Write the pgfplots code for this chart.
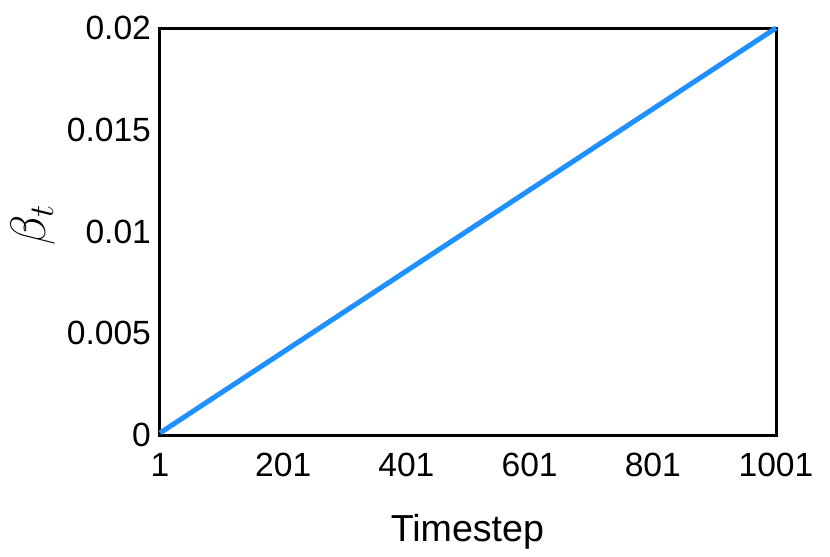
\documentclass[border=0pt]{standalone}
\usepackage{fontspec}
\setmainfont{Liberation Sans}
\usepackage{pgfplots}
\usetikzlibrary{calc}
\pgfplotsset{compat=1.18}
\definecolor{lineblue}{RGB}{30,144,255}
\begin{document}
\begin{tikzpicture}
\begin{axis}[
  width=308pt, height=203.5pt,
  scale only axis,
  xmin=1, xmax=1001, ymin=0, ymax=0.02,
  xtick={1,201,401,601,801,1001},
  ytick={0,0.005,0.01,0.015,0.02},
  yticklabels={0,0.005,0.01,0.015,0.02},
  xticklabels={1,201,401,601,801,1001},
  scaled y ticks=false,
  major tick length=0pt,
  axis line style={line width=1.5pt, black},
  tick label style={font=\fontsize{16.8}{19}\selectfont},
  xticklabel style={yshift=-5.5pt},
  yticklabel style={xshift=-1pt},
  xlabel={Timestep},
  ylabel={$\beta_t$},
  xlabel style={font=\fontsize{18.8}{22}\selectfont, at={(axis description cs:0.499,-0.238)}, anchor=center},
  ylabel style={font=\fontsize{24}{28}\selectfont, at={(axis description cs:-0.206,0.516)}, anchor=center},
  clip=false,
]
\addplot[color=lineblue, line width=2.5pt] coordinates {(1,0.0001) (1001,0.02)};
\end{axis}
\path ($(current axis.south west)+(-80pt,-59.5pt)$) rectangle ($(current axis.north east)+(27pt,14pt)$);
\end{tikzpicture}
\end{document}
